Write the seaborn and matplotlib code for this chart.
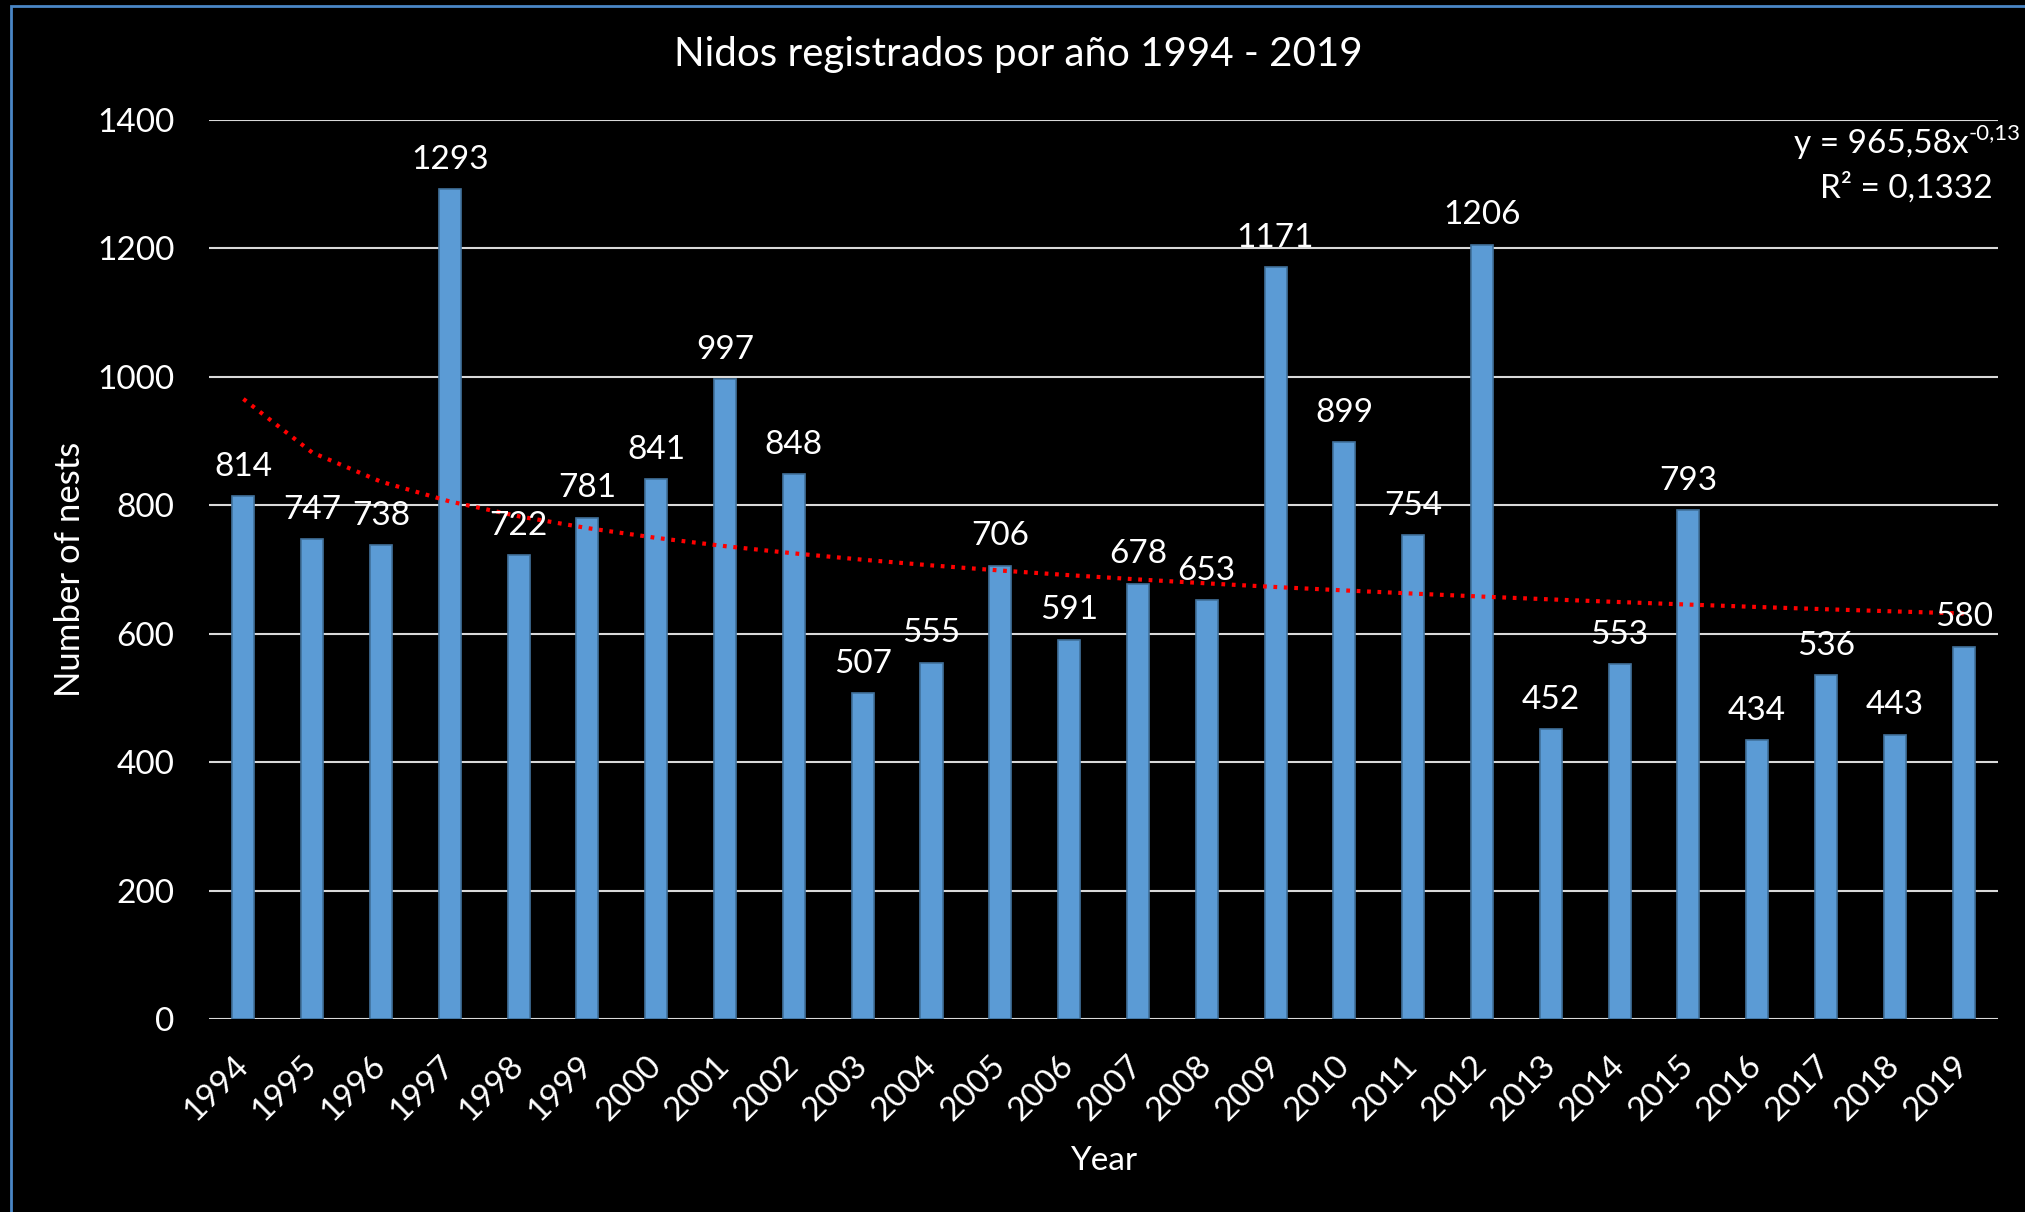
import numpy as np
import pandas as pd
import seaborn as sns
from matplotlib import pyplot as plt
from matplotlib.patches import Rectangle

years = ['1994', '1995', '1996', '1997', '1998', '1999', '2000', '2001', '2002',
         '2003', '2004', '2005', '2006', '2007', '2008', '2009', '2010', '2011',
         '2012', '2013', '2014', '2015', '2016', '2017', '2018', '2019']
nests = [814, 747, 738, 1293, 722, 781, 841, 997, 848, 507, 555, 706, 591,
         678, 653, 1171, 899, 754, 1206, 452, 553, 793, 434, 536, 443, 580]
y_ticks = [0, 200, 400, 600, 800, 1000, 1200, 1400]

df = pd.DataFrame({'Year': years, 'Nests': nests})

# power trendline, excel style: ln y = ln a + b ln x
xs = np.arange(1, len(nests) + 1)
b, ln_a = np.polyfit(np.log(xs), np.log(df['Nests']), 1)
trend = pd.DataFrame({'pos': xs - 1, 'fit': np.exp(ln_a) * xs ** b})

sns.set_style('dark')
plt.rcParams['font.family'] = ['Lato', 'DejaVu Sans']

fig = plt.figure(figsize=(20.25, 12.12), dpi=100, facecolor='black')
ax = fig.add_axes([0.1032, 0.1592, 0.8835, 0.7418])
ax.set_facecolor('black')

sns.barplot(data=df, x='Year', y='Nests', ax=ax, color='#5B9BD5',
            width=0.32, edgecolor='#41719C', linewidth=1.2, saturation=1, zorder=3)
sns.lineplot(data=trend, x='pos', y='fit', ax=ax, color='#FF0000',
             linestyle=(0, (0.9, 1.6)), linewidth=3, zorder=4)

for i, v in enumerate(nests):
    ax.annotate(str(v), (i, v), xytext=(0, 21), textcoords='offset points',
                ha='center', va='center', color='white', fontsize=24, zorder=5)

ax.set_xlim(-0.5, len(years) - 0.5)
ax.set_ylim(0, 1400)
ax.set_yticks(y_ticks)
ax.grid(axis='y', color='#D9D9D9', linewidth=1.5, zorder=0)
ax.grid(axis='x', visible=False)
for s in ax.spines.values():
    s.set_visible(False)
ax.tick_params(axis='y', length=0, pad=25, labelsize=24, labelcolor='white')
ax.tick_params(axis='x', length=0, pad=30, labelsize=24, labelcolor='white')
for lab in ax.get_xticklabels():
    lab.set_rotation(45)
    lab.set_ha('right')
    lab.set_va('center')
    lab.set_rotation_mode('anchor')

ax.set_xlabel('Year', color='white', fontsize=24, labelpad=14)
ax.set_ylabel('Number of nests', color='white', fontsize=25, labelpad=8)

fig.text(0.503, 0.955, 'Nidos registrados por año 1994 - 2019', ha='center', va='center',
         color='white', fontsize=29)
fig.text(0.972, 0.881, 'y = 965,58x', ha='right', va='center',
         color='white', fontsize=24)
fig.text(0.972, 0.890, '-0,13', ha='left', va='center',
         color='white', fontsize=16)
fig.text(0.984, 0.845, 'R² = 0,1332', ha='right', va='center',
         color='white', fontsize=24)

fig.patches.append(Rectangle((0.0054, -0.1), 1.2, 1.095, transform=fig.transFigure,
                             fill=False, edgecolor='#4A86C5', linewidth=2))

fig.savefig('out.png', dpi=100, facecolor='black')
